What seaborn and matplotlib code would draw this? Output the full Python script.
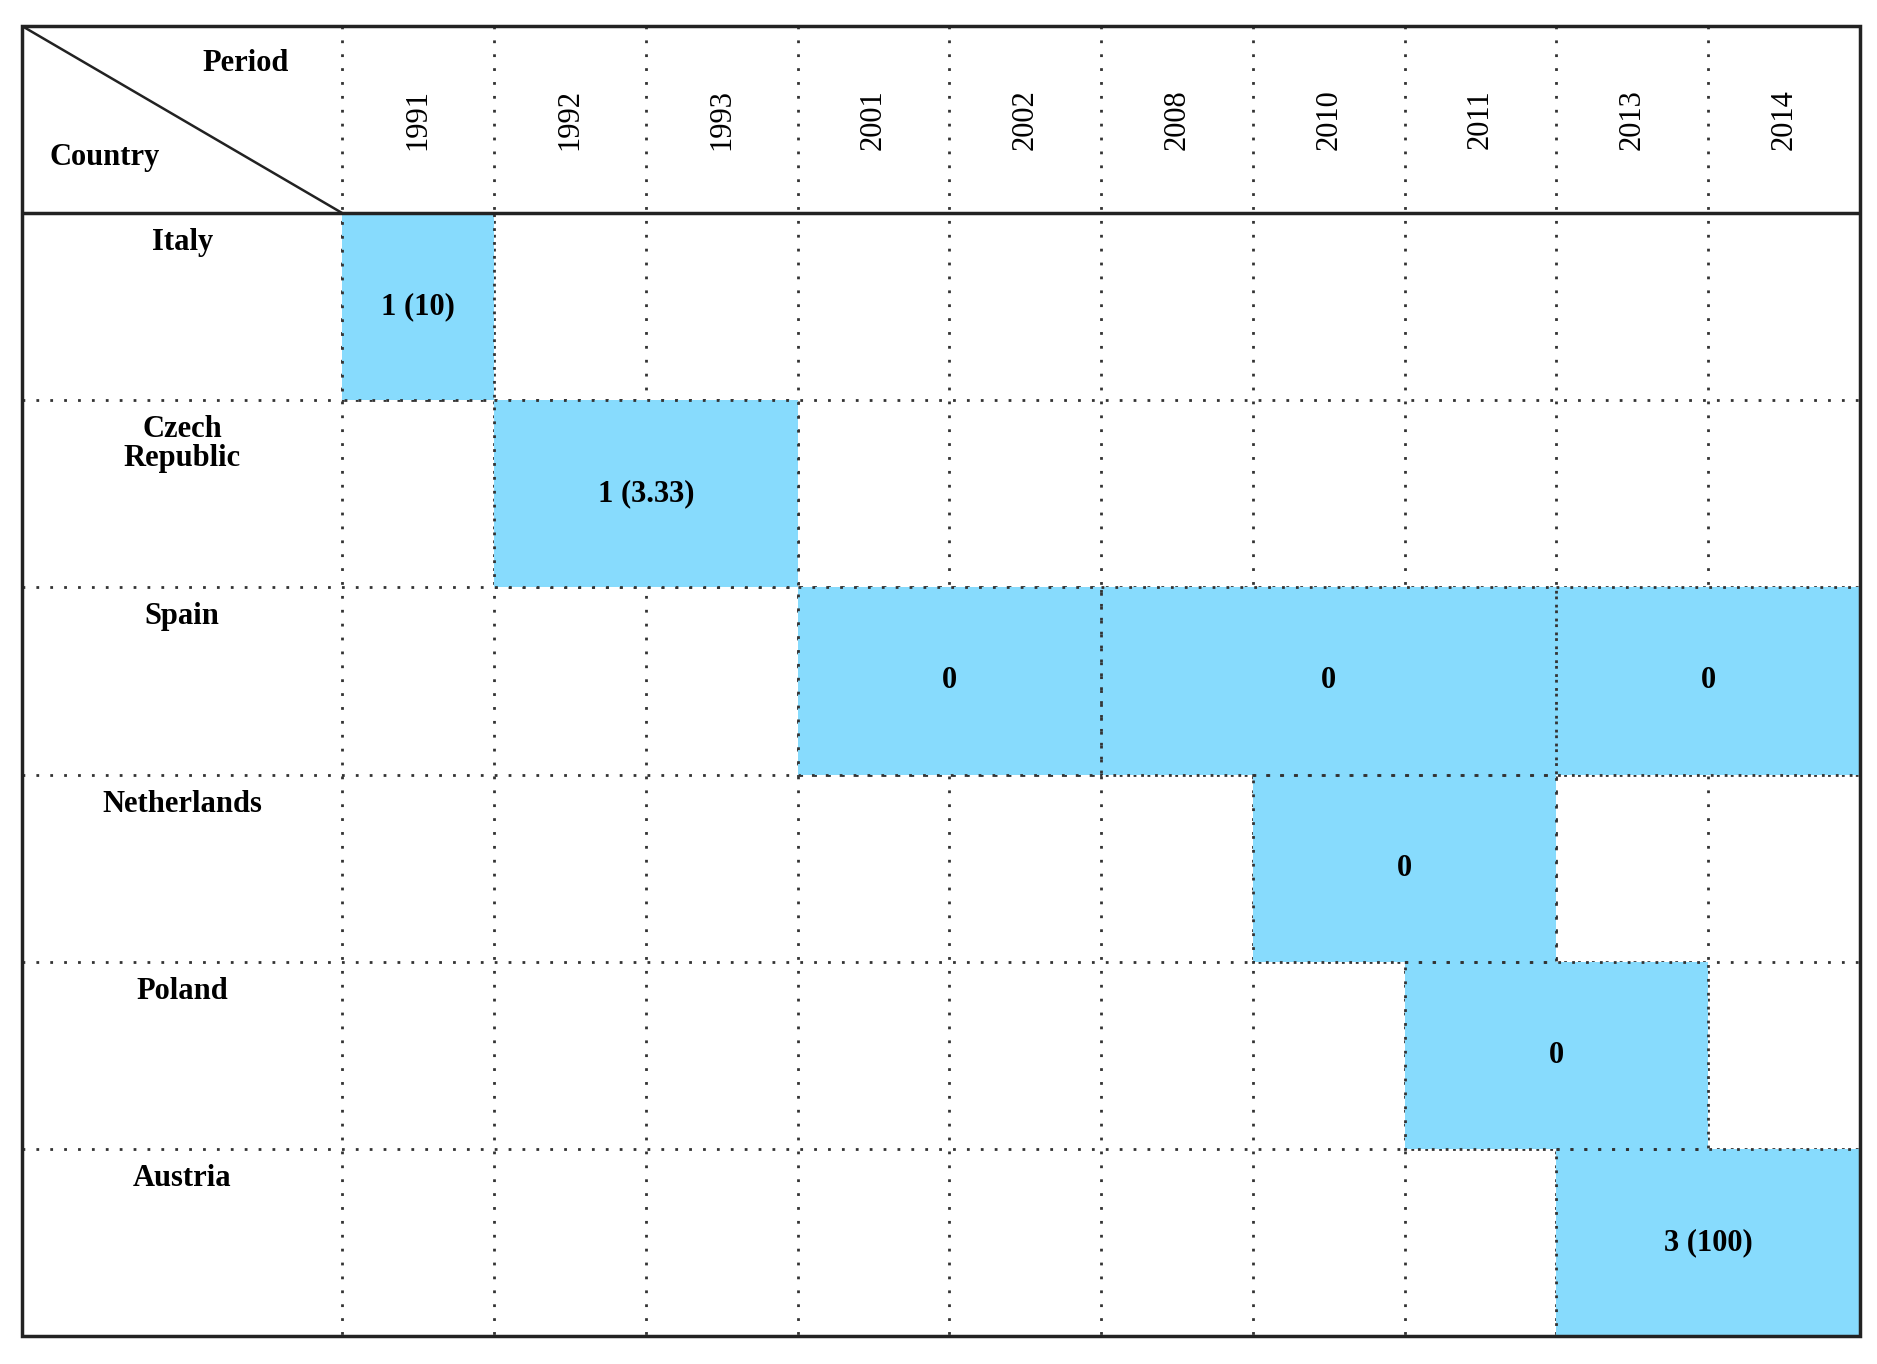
import numpy as np
import pandas as pd
import seaborn as sns
import matplotlib
matplotlib.use("Agg")
import matplotlib.pyplot as plt
from matplotlib.colors import ListedColormap
from matplotlib.patches import Rectangle

years = ["1991", "1992", "1993", "2001", "2002", "2008", "2010", "2011", "2013", "2014"]
countries = ["Italy", "Czech\nRepublic", "Spain", "Netherlands", "Poland", "Austria"]
# spans: (country index, first year, last year, label)
span_rows = [0, 1, 2, 2, 2, 3, 4, 5]
span_start = ["1991", "1992", "2001", "2008", "2013", "2010", "2011", "2013"]
span_end = ["1991", "1993", "2002", "2011", "2014", "2011", "2013", "2014"]
span_text = ["1 (10)", "1 (3.33)", "0", "0", "0", "0", "0", "3 (100)"]

mat = np.full((len(countries), len(years)), np.nan)
for r, s, e in zip(span_rows, span_start, span_end):
    mat[r, years.index(s):years.index(e) + 1] = 1
df = pd.DataFrame(mat, index=countries, columns=years)

plt.rcParams['font.family'] = ['Liberation Serif', 'DejaVu Serif']
fig = plt.figure(figsize=(18.77, 13.64), dpi=100)
ax = fig.add_axes([22/1877, 1-1336/1364, (1860-22)/1877, (1336-26)/1364])
sns.heatmap(df, mask=df.isna(), cmap=ListedColormap(['#87DBFD']), cbar=False,
            ax=ax, linewidths=0, xticklabels=False, yticklabels=False)
lab_w = 267/126.5
ax.set_xlim(-lab_w, len(years))
ax.set_ylim(len(countries), -1)
ax.axis('off')

dot = dict(color='#333333', lw=2, ls=(0, (1, 4)))
for x in range(0, len(years)):
    ax.plot([x, x], [-1, len(countries)], zorder=0.5, **dot)
for y in range(1, len(countries)):
    ax.plot([-lab_w, len(years)], [y, y], zorder=0.5, **dot)
for r, s, e in zip(span_rows, span_start, span_end):
    x0 = years.index(s); x1 = years.index(e) + 1
    ax.add_patch(Rectangle((x0, r), x1-x0, 1, fill=False, zorder=3, **{k: v for k, v in dot.items() if k != 'color'}, edgecolor='#333333'))
for r, s, e, t in zip(span_rows, span_start, span_end, span_text):
    xc = (years.index(s) + years.index(e) + 1) / 2
    ax.text(xc, r + 0.5, t, ha='center', va='center', fontsize=22, fontweight='bold', zorder=4)

ax.add_patch(Rectangle((-lab_w, -1), lab_w + len(years), len(countries) + 1, fill=False, lw=2.5, edgecolor='#222222', zorder=5, clip_on=False))
ax.plot([-lab_w, len(years)], [0, 0], color='#222222', lw=2.5, zorder=5)
ax.plot([-lab_w, 0], [-1, 0], color='#222222', lw=1.8, zorder=5)
ax.text(-0.35, -0.8, "Period", ha='right', va='center', fontsize=22, fontweight='bold')
ax.text(-lab_w + 0.18, -0.3, "Country", ha='left', va='center', fontsize=22, fontweight='bold')
for i, y in enumerate(years):
    ax.text(i + 0.5, -0.5, y, ha='center', va='center', rotation=90, fontsize=22)
for i, c in enumerate(countries):
    ax.text(-lab_w/2, i + 0.08, c, ha='center', va='top', fontsize=22, fontweight='bold', linespacing=1.0)

fig.savefig("out.png", dpi=100, facecolor='white')
